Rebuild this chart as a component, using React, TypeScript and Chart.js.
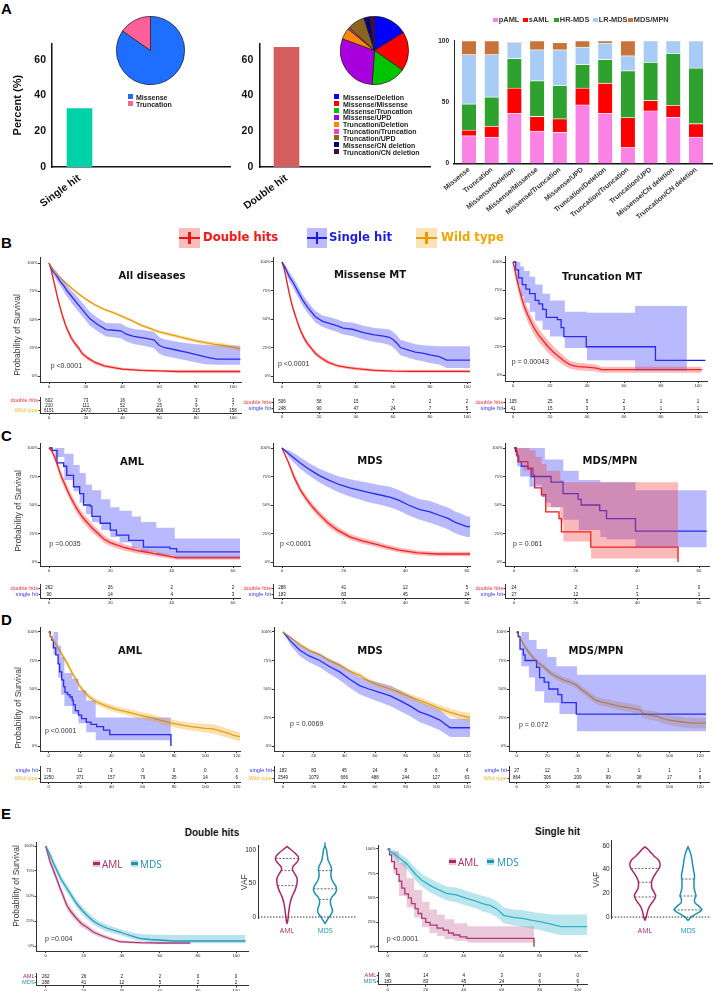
import React, { useEffect, useRef } from 'react';
import { Chart, registerables } from 'chart.js';

const SANS = '"Liberation Sans", Arial, Helvetica, sans-serif';
const DEJAVU = '"DejaVu Sans", Verdana, sans-serif';
const OPEN = '"Open Sans", "Liberation Sans", sans-serif';

// ---------------- Panel A data ----------------
const hitCategories = ['Single hit', 'Double hit'];
const hitPercent = [32.7, 67.0];
const singlePieLabels = ['Missense', 'Truncation'];
const singlePieValues = [84.7, 15.3];
const singlePieColors = ['#1E6EFF', '#FF6098'];
const doublePieLabels = ['Missense/Deletion', 'Missense/Missense', 'Missense/Truncation', 'Missense/UPD', 'Truncation/Deletion', 'Truncation/Truncation', 'Truncation/UPD', 'Missense/CN deletion', 'Truncation/CN deletion'];
const doublePieValues = [16.1, 18.6, 16.4, 29.4, 5.3, 0.8, 8.3, 2.8, 2.2];
const doublePieColors = ['#0000FF', '#FF0000', '#00C400', '#A800DC', '#FF8800', '#FF3CC8', '#8C6420', '#000080', '#4A0A40'];

const comboCategories = ['Missense', 'Truncation', 'Missense/Deletion', 'Missense/Missense', 'Missense/Truncation', 'Missense/UPD', 'Truncation/Deletion', 'Truncation/Truncation', 'Truncation/UPD', 'Missense/CN deletion', 'Truncation/CN deletion'];
const diseaseNames = ['pAML', 'sAML', 'HR-MDS', 'LR-MDS', 'MDS/MPN'];
const diseaseColors = ['#FA82E4', '#FF0000', '#2EA12E', '#A8CCF6', '#C8733A'];
const pamlPct = [22.6, 21.6, 40.8, 26.5, 25.5, 47.8, 40.8, 13.0, 42.9, 37.7, 21.6];
const samlPct = [4.7, 8.8, 20.8, 11.9, 10.9, 13.8, 24.7, 24.4, 8.5, 9.8, 10.9];
const hrmdsPct = [21.3, 23.9, 24.1, 29.1, 27.2, 19.2, 19.4, 38.2, 31.2, 42.1, 45.4];
const lrmdsPct = [40.2, 34.5, 13.0, 25.2, 29.1, 14.2, 13.3, 12.2, 17.4, 10.4, 22.1];
const mpnPct = [11.2, 11.2, 0, 7.3, 6.0, 5.0, 1.8, 12.2, 0, 0, 0];

// ---------------- KM shared ----------------
const ticks100 = [0, 20, 40, 60, 80, 100];
const ticks60 = [0, 20, 40, 60];
const ticks120 = [0, 20, 40, 60, 80, 100, 120];
const groupDouble = 'double hits';
const groupSingle = 'single hit';
const groupWild = 'Wild type';

// B1 All diseases
const allDoubleT = [0, 1, 2, 3, 4, 5, 6, 7, 8, 9, 10, 12, 14, 16, 18, 21, 25, 30, 35, 40, 50, 60, 70, 80, 104];
const allDoubleS = [100, 95, 88, 81, 74, 67, 61, 55, 50, 45, 41, 34, 29, 25, 20, 16, 12, 9, 7.5, 6, 5, 4.5, 4, 4, 4];
const allDoubleLo = [100, 93.5, 86, 78.5, 71.5, 64.5, 58.5, 52.5, 47.5, 42.5, 38.5, 31.5, 26.7, 22.8, 18, 14.2, 10.4, 7.6, 6.2, 4.8, 3.9, 3.4, 2.9, 2.8, 2.8];
const allDoubleHi = [100, 96.5, 90, 83.5, 76.5, 69.5, 63.5, 57.5, 52.5, 47.5, 43.5, 36.5, 31.3, 27.2, 22, 17.8, 13.6, 10.4, 8.8, 7.2, 6.1, 5.6, 5.1, 5.2, 5.2];
const allSingleT = [0, 2, 4, 6, 8, 10, 12, 15, 18, 22, 26, 31, 35, 39, 42, 46, 52, 57, 60, 63, 69, 75, 80, 85, 91, 104];
const allSingleS = [100, 93, 89, 84, 80, 75, 71, 65, 59, 51, 46, 41, 40.5, 40, 37, 35, 33.5, 32, 27, 25, 23, 21, 19, 17, 15, 15];
const allSingleLo = [100, 90, 85, 80, 75, 70, 65, 59, 53, 45, 40, 35, 34.3, 33.5, 30.5, 28.3, 26.5, 24.8, 19.8, 17.8, 15.7, 13.8, 12, 10.5, 10, 10];
const allSingleHi = [100, 96, 93, 88, 85, 80, 76, 71, 65, 57, 52, 47, 46.7, 46.5, 43.5, 41.7, 40.5, 39.2, 34.2, 32.2, 30.5, 29, 28, 27.5, 27, 27];
const allWildT = [0, 3, 6, 10, 15, 20, 25, 30, 35, 40, 45, 50, 55, 60, 65, 70, 75, 80, 85, 90, 95, 100, 104];
const allWildS = [100, 92, 87, 81, 74, 68, 63, 59, 56, 52.5, 49, 45, 42, 39, 37, 35, 33, 31, 29.5, 28, 27, 25.5, 24];
const allWildLo = [100, 91, 86, 80, 73, 67, 62, 58, 55, 51.3, 47.8, 43.8, 40.7, 37.7, 35.6, 33.5, 31.4, 29.4, 27.8, 26.2, 25.1, 23.5, 22];
const allWildHi = [100, 93, 88, 82, 75, 69, 64, 60, 57, 53.7, 50.2, 46.2, 43.3, 40.3, 38.4, 36.5, 34.6, 32.6, 31.2, 29.8, 28.9, 27.5, 26];
const allRiskDouble = [602, 73, 16, 6, 3, 3];
const allRiskSingle = [210, 111, 52, 25, 9, 7];
const allRiskWild = [6151, 2473, 1342, 666, 315, 158];

// B2 Missense MT
const misDoubleT = [0, 1, 2, 3, 4, 5, 6, 7, 8, 9, 10, 12, 14, 16, 18, 21, 25, 30, 35, 40, 50, 60, 70, 80, 104];
const misDoubleS = [100, 95, 88, 80, 72, 65, 59, 54, 49, 44, 40, 33, 28, 24, 20, 16, 12, 9, 7.5, 6.5, 5, 4.3, 4, 4, 4];
const misDoubleLo = [100, 93.5, 85.5, 77.5, 69.5, 62.5, 56.5, 51.5, 46.5, 41.5, 37.5, 30.5, 25.7, 21.8, 18, 14.2, 10.4, 7.6, 6.2, 5.2, 3.8, 3.2, 2.8, 2.8, 2.8];
const misDoubleHi = [100, 96.5, 90.5, 82.5, 74.5, 67.5, 61.5, 56.5, 51.5, 46.5, 42.5, 35.5, 30.3, 26.2, 22, 17.8, 13.6, 10.4, 8.8, 7.8, 6.2, 5.4, 5.2, 5.2, 5.2];
const misSingleT = [0, 2, 4, 6, 8, 11, 14, 18, 22, 26, 30, 33, 38, 44, 50, 55, 58, 60, 62, 64, 68, 72, 76, 80, 85, 89, 104];
const misSingleS = [100, 94, 87, 82, 76, 67, 60, 52, 48, 46, 44, 42, 41, 38, 36, 35, 34, 32, 29, 25, 23, 21, 20, 18.5, 17, 14, 14];
const misSingleLo = [100, 91, 83, 77.5, 71, 62, 55, 47, 43, 40.5, 38.5, 36.5, 35, 32, 29.8, 28.5, 27.3, 25.2, 22.2, 18.2, 16.2, 14.2, 13, 11.5, 10, 7, 7];
const misSingleHi = [100, 97, 91, 86.5, 81, 72, 65, 57, 53, 51.5, 49.5, 47.5, 47, 44, 42.2, 41.5, 40.7, 38.8, 35.8, 31.8, 29.8, 27.8, 27, 26.5, 26, 26, 26];
const misRiskDouble = [506, 58, 15, 7, 2, 2];
const misRiskSingle = [248, 90, 47, 24, 7, 5];

// B3 Truncation MT
const truDoubleT = [0, 1, 2, 4, 6, 8, 10, 12, 14, 16, 19, 22, 25, 28, 31, 35, 40, 45, 48, 102];
const truDoubleS = [100, 93, 85, 72, 61, 53, 46, 40, 35, 31, 25, 20, 16, 12, 9, 7.5, 7, 6, 4.7, 4.7];
const truDoubleLo = [100, 89, 80, 66, 55, 47, 40, 34, 29, 25.5, 19.5, 15, 11.5, 8, 5.5, 4.2, 3.8, 3, 2, 2];
const truDoubleHi = [100, 97, 90, 78, 67, 59, 52, 46, 41, 36.5, 30.5, 25, 20.5, 16, 12.5, 10.8, 10.2, 9, 7.4, 7.4];
const truSingleT = [0, 1.5, 3, 5, 7, 9, 12, 14, 16, 18, 24, 26, 27.5, 39.6, 77, 104];
const truSingleS = [100, 93, 86, 80, 76, 72, 66, 63, 58, 51, 49, 42, 34, 25, 13, 13];
const truSingleBandT = [0, 2, 4, 6, 9, 12, 16, 20, 28, 40, 66, 94];
const truSingleLo = [100, 80, 70, 64, 56, 48, 40, 34, 24, 13, 4, 4];
const truSingleHi = [100, 100, 96, 92, 87, 80, 72, 66, 56, 55, 61, 61];
const truRiskDouble = [105, 25, 5, 2, 1, 1];
const truRiskSingle = [41, 15, 3, 3, 1, 1];

// C1 AML (double vs single)
const amlCDoubleT = [0, 1, 2, 3, 4, 5, 6, 7, 8, 9, 10, 11, 12, 13, 14, 16, 18, 20, 22, 25, 28, 31, 34, 38, 41.6, 62.5];
const amlCDoubleS = [100, 97, 91, 83, 75, 69, 63, 57, 52, 47, 43, 39, 36, 33, 30, 25, 20, 17, 15, 12.5, 10.5, 9, 7.5, 5.5, 3.8, 3.8];
const amlCDoubleLo = [100, 95, 88, 79.5, 71, 65, 59, 53, 48, 43, 39, 35, 32, 29, 26.2, 21.5, 16.7, 14, 12, 9.7, 7.9, 6.5, 5.2, 3.5, 2, 2];
const amlCDoubleHi = [100, 99, 94, 86.5, 79, 73, 67, 61, 56, 51, 47, 43, 40, 37, 33.8, 28.5, 23.3, 20, 18, 15.3, 13.1, 11.5, 9.8, 7.5, 5.6, 5.6];
const amlCSingleT = [0, 1, 2.6, 4.8, 5.8, 8, 10, 11.3, 13.4, 14, 16.7, 20, 22, 26, 30.8, 39.4, 41.6, 62.5];
const amlCSingleS = [100, 98, 87, 84, 76, 66, 60, 50, 49, 40, 34, 28, 23.5, 19, 13, 11.8, 8.8, 8.8];
const amlCSingleBandT = [0, 2, 5, 8, 10, 12, 14, 17, 20, 23, 27, 30, 35, 41, 62.5];
const amlCSingleHi = [100, 100, 95, 85, 78, 68, 63, 55, 48, 45, 40, 35, 30, 20.6, 20.6];
const amlCSingleLo = [100, 92, 72, 62, 52, 42, 35, 28, 22, 17, 12, 9, 6, 3, 3];
const amlCRiskDouble = [262, 26, 2, 2];
const amlCRiskSingle = [90, 14, 4, 3];

// C2 MDS (double vs single)
const mdsCDoubleT = [0, 2, 4, 6, 8, 10, 12, 15, 18, 22, 26, 30, 34, 38, 44, 50, 62.5];
const mdsCDoubleS = [100, 88, 74, 63, 55, 48, 42, 34, 28, 22, 18.5, 16, 13, 10.5, 8, 7, 7];
const mdsCDoubleLo = [100, 86, 71, 60, 52, 45, 39, 31, 25, 19.5, 16, 13.5, 10.7, 8.3, 6, 5, 5];
const mdsCDoubleHi = [100, 90, 77, 66, 58, 51, 45, 37, 31, 24.5, 21, 18.5, 15.3, 12.7, 10, 9, 9];
const mdsCSingleT = [0, 2.6, 5.8, 9, 12, 15, 18.5, 22, 25, 28, 31.5, 35, 38, 41, 44.7, 48, 51, 54, 56, 58, 60, 62.5];
const mdsCSingleS = [100, 94, 87, 81, 76, 72, 68, 65, 63, 61, 59, 57, 54, 50, 46, 44, 41, 38, 35, 33, 31, 31];
const mdsCSingleLo = [100, 90.5, 82, 75.5, 70, 65.5, 61, 57.5, 55, 52.5, 50.5, 48, 45, 41, 37, 34.5, 31.5, 28.5, 25.5, 23.5, 22, 22];
const mdsCSingleHi = [100, 97.5, 92, 86.5, 82, 78.5, 75, 72.5, 71, 69.5, 67.5, 66, 63, 59, 55, 53.5, 50.5, 47.5, 44.5, 42.5, 40, 40];
const mdsCRiskDouble = [288, 41, 12, 5];
const mdsCRiskSingle = [183, 83, 45, 24];

// C3 MDS/MPN (double vs single)
const mpnCDoubleT = [0, 0.8, 1.3, 4.5, 6.2, 6.7, 8.9, 10.3, 14.6, 15.4, 24.9, 53.2];
const mpnCDoubleS = [100, 94, 88, 82, 76.5, 65, 59, 44, 38, 26.5, 13, 0];
const mpnCDoubleBandT = [0, 1, 3, 5, 7, 9, 10.5, 15, 16, 25, 53.2];
const mpnCDoubleHi = [100, 100, 100, 98, 92, 86, 80, 72, 70, 70, 70];
const mpnCDoubleLo = [100, 87, 80, 76, 68, 57, 48, 35, 18, 3, 3];
const mpnCSingleT = [0, 0.5, 1, 1.5, 2.4, 4.5, 5.6, 12, 15.9, 20.8, 21.8, 27.8, 30, 39.4, 62.5];
const mpnCSingleS = [100, 97, 93, 88, 84, 82, 75, 70, 60, 55, 50, 45, 38, 27, 27];
const mpnCSingleBandT = [0, 1, 2, 5, 9, 10, 12, 16, 21, 28, 30, 39.4, 62.5];
const mpnCSingleHi = [100, 100, 100, 100, 100, 90, 90, 80, 72, 70, 70, 63, 63];
const mpnCSingleLo = [100, 84, 75, 66, 57, 52, 48, 37, 28, 22, 20, 13, 13];
const mpnCRiskDouble = [24, 2, 1, 0];
const mpnCRiskSingle = [27, 12, 3, 1];

// D1 AML (single vs wild)
const amlDWildT = [0, 3, 6, 9, 12, 15, 18, 20, 23, 26, 30, 35, 40, 45, 50, 58, 65, 71, 80, 86, 92, 100, 105, 110, 115, 118, 122.6];
const amlDWildS = [100, 93, 86, 79, 72, 64, 57, 52, 47, 43, 39, 36, 33.5, 31.5, 30, 27, 25, 22.6, 19.7, 18, 16.8, 15.5, 15, 13, 11, 9.4, 8];
const amlDWildLo = [100, 91.5, 84, 77, 69.5, 61.5, 54.5, 49.5, 44.5, 40.5, 36.5, 33.3, 30.8, 28.7, 27, 24, 22, 19.5, 16.5, 14.7, 13.3, 11.8, 11, 9, 7, 5.5, 4];
const amlDWildHi = [100, 94.5, 88, 81, 74.5, 66.5, 59.5, 54.5, 49.5, 45.5, 41.5, 38.7, 36.2, 34.3, 33, 30, 28, 25.7, 22.9, 21.3, 20.3, 19.2, 19, 17, 15, 13.3, 12];
const amlDSingleT = [0, 1, 2, 3, 4.5, 6, 7, 8.3, 9.5, 10.4, 12, 13.6, 15, 15.7, 17, 19, 21, 24, 27, 30.6, 35, 39, 78];
const amlDSingleS = [100, 96, 93, 86, 80, 72, 65, 58, 52, 47, 45, 43, 40, 36, 31, 27, 24, 21, 19, 17, 14, 10, 0];
const amlDSingleBandT = [0, 3, 6, 8, 10, 15, 19, 24, 30, 78];
const amlDSingleHi = [100, 100, 88, 78, 64, 59, 49, 40, 25, 25];
const amlDSingleLo = [100, 80, 60, 45, 35, 28, 20, 12, 5, 3.5];
const amlDRiskSingle = [73, 12, 3, 0, 0, 0, 0];
const amlDRiskWild = [1250, 371, 157, 79, 35, 14, 6];

// D2 MDS (single vs wild)
const mdsDWildT = [0, 5, 11, 17, 24, 30, 37, 43, 50, 56, 63, 70, 76, 83, 89, 95, 102, 108, 115, 122];
const mdsDWildS = [100, 95, 89, 84, 80, 75, 71, 66, 62, 57, 53, 50, 47, 43, 40, 37, 33, 30, 27, 25];
const mdsDWildLo = [100, 94, 87.7, 82.5, 78.4, 73.3, 69.2, 64.1, 60, 54.9, 50.8, 47.7, 44.5, 40.4, 37.3, 34.2, 30, 26.8, 23.5, 21];
const mdsDWildHi = [100, 96, 90.3, 85.5, 81.6, 76.7, 72.8, 67.9, 64, 59.1, 55.2, 52.3, 49.5, 45.6, 42.7, 39.8, 36, 33.2, 30.5, 29];
const mdsDSingleT = [0, 5, 11, 17, 24, 30, 37, 43, 50, 56, 63, 70, 76, 83, 89, 95, 102, 109, 122];
const mdsDSingleS = [100, 92, 84, 79, 75, 70, 65, 59, 53, 50, 47, 44, 40, 35, 30, 27, 23, 16, 16];
const mdsDSingleLo = [100, 88, 79, 73.5, 69, 63.5, 58, 51.5, 45.5, 42, 38.5, 35, 31, 26, 21, 18, 14, 8, 8];
const mdsDSingleHi = [100, 96, 89, 84.5, 81, 76.5, 72, 66.5, 60.5, 58, 55.5, 53, 49, 44, 39, 36, 32, 24, 24];
const mdsDRiskSingle = [183, 83, 45, 24, 8, 6, 4];
const mdsDRiskWild = [2549, 1079, 666, 488, 244, 127, 63];

// D3 MDS/MPN (single vs wild)
const mpnDWildT = [0, 2, 4.4, 8, 13, 18, 22, 26, 30.5, 35, 39, 42, 46, 49, 52, 56, 61, 67, 74, 81, 83, 88, 92, 96, 100, 106, 111, 116, 124];
const mpnDWildS = [100, 96, 89, 82, 74, 69, 64, 61, 58, 56, 53.5, 50, 46, 43, 40, 38.5, 37, 35, 33.5, 31.5, 28, 27, 26, 24, 22.6, 21.5, 20.6, 20, 20];
const mpnDWildLo = [100, 94.5, 87, 79.8, 71.7, 66.6, 61.5, 58.4, 55.3, 53.2, 50.6, 47, 42.9, 39.8, 36.7, 35.1, 33.5, 31.4, 29.8, 27.7, 24.1, 23, 21.9, 19.8, 18.3, 17.1, 16.1, 15.4, 15.4];
const mpnDWildHi = [100, 97.5, 91, 84.2, 76.3, 71.4, 66.5, 63.6, 60.7, 58.8, 56.4, 53, 49.1, 46.2, 43.3, 41.9, 40.5, 38.6, 37.2, 35.3, 31.9, 31, 30.1, 28.2, 26.9, 25.9, 25.1, 24.6, 24.6];
const mpnDSingleT = [0, 1, 2.2, 4.4, 5.5, 13, 15, 18, 21, 27, 29.5, 39, 124];
const mpnDSingleS = [100, 96, 85, 80, 75, 69, 60, 56, 50, 45, 38, 28, 28];
const mpnDSingleBandT = [0, 3, 8, 12, 13, 18, 20, 26, 28, 39.5, 124];
const mpnDSingleHi = [100, 100, 93, 93, 85, 85, 78, 70, 70, 62.5, 62.5];
const mpnDSingleLo = [100, 70, 60, 48, 48, 38, 38, 38, 28, 13, 13];
const mpnDRiskSingle = [27, 12, 3, 1, 1, 1, 1];
const mpnDRiskWild = [864, 306, 209, 99, 38, 17, 8];

// E1 Double hits AML vs MDS
const dblEAmlT = [0, 1, 2.3, 4, 5, 6, 7.5, 9, 11, 13, 16, 19, 21.5, 25, 28.5, 32, 36, 39, 45, 50, 60, 76];
const dblEAmlS = [100, 93, 84, 76, 71, 66, 58, 51, 41, 35, 28, 22, 19, 14, 11, 8.5, 6, 4.3, 3.7, 3.3, 3, 3];
const dblEAmlLo = [100, 90, 80.5, 72, 67, 62, 54, 47, 37, 31, 24.5, 18.8, 16, 11.5, 8.8, 6.6, 4.4, 2.9, 2.4, 2, 1.8, 1.8];
const dblEAmlHi = [100, 96, 87.5, 80, 75, 70, 62, 55, 45, 39, 31.5, 25.2, 22, 16.5, 13.2, 10.4, 7.6, 5.7, 5, 4.6, 4.2, 4.2];
const dblEMdsT = [0, 1, 2.3, 4, 5.8, 8, 11, 13, 16, 19, 21.5, 25, 28.5, 32, 36, 39, 45, 49.5, 55, 60, 67, 80, 105];
const dblEMdsS = [100, 96, 91, 83, 76, 67, 58, 52, 43, 36, 31, 25, 21, 18, 15.5, 14, 10, 7.7, 6.5, 6, 5, 5, 5];
const dblEMdsLo = [100, 93, 87.5, 79, 72, 63, 54, 48, 39, 32, 27, 21.5, 17.5, 14.7, 12.3, 10.9, 7.2, 5.2, 4.1, 3.6, 2.7, 2.7, 2.7];
const dblEMdsHi = [100, 99, 94.5, 87, 80, 71, 62, 56, 47, 40, 35, 28.5, 24.5, 21.3, 18.7, 17.1, 13.5, 12, 11.5, 11.3, 11, 11, 11];
const dblERiskAml = [262, 26, 2, 2, 0, 0];
const dblERiskMds = [288, 41, 12, 5, 2, 2];

// E2 Single hit AML vs MDS
const sglEAmlT = [0, 1, 2.1, 3.5, 4.7, 6, 7.4, 9, 10.9, 12.5, 14.4, 16, 17.9, 20, 22.3, 26, 29.3, 32, 34.6, 38, 41.6, 77];
const sglEAmlS = [100, 94, 87, 80, 74, 67, 60, 54, 50, 44, 39, 34, 29, 25, 22, 19, 17, 14, 12, 10, 8.5, 0];
const sglEAmlBandT = [0, 3, 6, 10, 14, 18, 22, 26, 30, 35, 42, 77];
const sglEAmlHi = [100, 98, 86, 70, 58, 46, 38, 33, 28, 24, 21, 21];
const sglEAmlLo = [100, 75, 52, 40, 30, 20, 14, 11, 8, 6, 4, 4];
const sglEMdsT = [0, 1, 3, 6, 10, 13, 15, 18, 22, 26, 31, 36, 41.6, 46, 50, 54, 57, 59, 61, 66, 71, 76, 80, 86, 91, 105];
const sglEMdsS = [100, 98, 95.5, 91, 85, 78, 73.4, 68, 63, 59, 54.6, 53, 49.5, 47, 44, 42, 39, 36, 32, 30, 29, 27, 25.6, 23, 20.5, 20.5];
const sglEMdsLo = [100, 96, 92, 86.5, 79.5, 72, 67, 61.5, 56, 52, 47.5, 45.5, 42, 39.5, 36, 34, 31, 28, 24, 22, 20.5, 18.5, 17, 14, 12, 12];
const sglEMdsHi = [100, 100, 99, 95.5, 90.5, 84, 80, 74.5, 70, 66, 61.7, 60.5, 57, 54.5, 52, 50, 47, 44, 40, 38, 37.5, 35.5, 34.5, 33, 33, 33];
const sglERiskAml = [90, 14, 4, 3, 0, 0];
const sglERiskMds = [183, 83, 45, 24, 6, 6];

// Violins (VAF)
const vafGroups = ['AML', 'MDS'];
const dblVafAmlY = [-10, -5, 0, 10, 20, 30, 40, 50, 58, 65, 70, 75, 80, 85, 90, 95, 100, 105];
const dblVafAmlD = [0, 0.07, 0.1, 0.17, 0.26, 0.43, 0.7, 0.87, 0.87, 0.65, 0.48, 0.52, 0.78, 1, 0.96, 0.7, 0.35, 0];
const dblVafAmlQ = [46.7, 69, 87];
const dblVafMdsY = [-10, -5, 0, 5, 10, 15, 20, 25, 30, 35, 40, 45, 50, 55, 60, 65, 70, 75, 80, 85, 90, 95, 100, 106];
const dblVafMdsD = [0, 0.17, 0.35, 0.57, 0.65, 0.57, 0.48, 0.48, 0.61, 0.87, 1, 0.96, 0.78, 0.61, 0.52, 0.52, 0.57, 0.52, 0.39, 0.26, 0.22, 0.17, 0.13, 0];
const dblVafMdsQ = [26.2, 42, 69];
const sglVafAmlY = [-3, 0, 3, 6, 9, 12, 15, 18, 21, 24, 27, 30, 33, 36, 39, 42, 45, 48, 51, 54, 57, 59];
const sglVafAmlD = [0, 0.08, 0.13, 0.19, 0.29, 0.45, 0.61, 0.69, 0.58, 0.45, 0.42, 0.43, 0.52, 0.65, 0.81, 0.95, 0.97, 0.87, 0.61, 0.39, 0.19, 0];
const sglVafAmlQ = [16.9, 29.3, 40.9];
const sglVafMdsY = [-3, 0, 3, 6, 9, 12, 15, 18, 21, 25, 30, 35, 40, 45, 50, 55, 59];
const sglVafMdsD = [0, 0.19, 0.58, 0.9, 0.71, 0.45, 0.42, 0.52, 0.45, 0.39, 0.39, 0.42, 0.35, 0.29, 0.23, 0.13, 0];
const sglVafMdsQ = [6, 17.7, 32];

// ---------------- colors ----------------
const RED = '#F01414';
const RED_FILL = 'rgba(245,60,60,0.36)';
const BLUE = '#1A1AE8';
const BLUE_FILL = 'rgba(70,70,250,0.38)';
const ORANGE = '#E89B00';
const ORANGE_FILL = 'rgba(235,165,30,0.35)';
const AML_C = '#A8286A';
const AML_FILL = 'rgba(190,90,140,0.32)';
const MDS_C = '#1C90B2';
const MDS_FILL = 'rgba(60,175,205,0.36)';
const LBL_RED = '#E8323C';
const LBL_BLUE = '#3C3CE0';
const LBL_ORANGE = '#EDB52A';

// ---------------- plugin ----------------
const riskPlugin = {
  id: 'riskNums',
  afterDraw(chart: any, _a: any, opts: any) {
    if (!opts || !opts.rows) return;
    const x = chart.scales.x;
    const y = chart.scales.y;
    const ctx = chart.ctx;
    ctx.save();
    ctx.font = `${opts.size || 4.5}px ${SANS}`;
    ctx.fillStyle = '#111';
    ctx.textAlign = 'center';
    ctx.textBaseline = 'middle';
    opts.rows.forEach((row: number[], i: number) =>
      row.forEach((n: number, j: number) => ctx.fillText(String(n), x.getPixelForValue(opts.times[j]), y.getPixelForValue(i + 0.5)))
    );
    ctx.restore();
  },
};
Chart.register(...registerables, riskPlugin);

// ---------------- helpers ----------------
function lin(v0: number, p0: number, v1: number, p1: number, p: number) {
  return v0 + ((p - p0) * (v1 - v0)) / (p1 - p0);
}
function makeBox(AL: number, PR: number, PT: number, AB: number, yw: number, xh: number, padT = 3, padR = 3) {
  const left = Math.floor(AL - yw);
  const top = Math.floor(PT - padT);
  const width = Math.ceil(PR + padR - left);
  const height = Math.ceil(AB + xh - top);
  return { left, top, width, height, yw: AL - left, xh: top + height - AB, padT: PT - top, padR: left + width - PR };
}
const pts = (t: number[], v: number[]) => t.map((x, i) => ({ x, y: v[i] }));
const noUI = { legend: { display: false }, tooltip: { enabled: false } };

function ChartBox({ box, config }: any) {
  const ref = useRef<HTMLCanvasElement>(null);
  useEffect(() => {
    const chart = new Chart(ref.current as HTMLCanvasElement, config);
    return () => chart.destroy();
  }, []);
  return (
    <canvas
      ref={ref}
      width={box.width}
      height={box.height}
      style={{ position: 'absolute', left: box.left, top: box.top, width: box.width, height: box.height }}
    />
  );
}

function Txt({ x, y, text, size = 7, color = '#222', weight = 400, family = SANS, align = 'left', rotate = 0 }: any) {
  const tx = align === 'center' ? '-50%' : align === 'right' ? '-100%' : '0';
  return (
    <div
      style={{
        position: 'absolute', left: x, top: y, fontSize: size, color, fontWeight: weight, fontFamily: family,
        lineHeight: 1, whiteSpace: 'nowrap', transform: `translate(${tx},-50%)${rotate ? ` rotate(${rotate}deg)` : ''}`,
        transformOrigin: rotate ? '50% 50%' : undefined,
      }}
    >
      {text}
    </div>
  );
}

// ---------------- KM ----------------
function kmXScale(g: any, xticks: number[], xh: number) {
  return {
    type: 'linear',
    offset: false,
    min: lin(0, g.X0, g.xt, g.Xt, g.AL),
    max: lin(0, g.X0, g.xt, g.Xt, g.PR),
    afterBuildTicks: (s: any) => { s.ticks = xticks.map((v) => ({ value: v })); },
    afterFit: (s: any) => { s.height = xh; },
    ticks: { font: { size: 4.3, family: SANS }, color: '#222', padding: 0.5, maxRotation: 0, autoSkip: false },
    grid: { drawOnChartArea: false, drawTicks: true, tickLength: 2, color: '#333' },
    border: { color: '#333', width: 1 },
  };
}

function kmConfig(p: any) {
  const g = p.geo;
  const b = makeBox(g.AL, g.PR, g.PT, g.AB, 30, 8);
  const datasets: any[] = [];
  p.curves.forEach((c: any) => {
    datasets.push({ data: pts(c.bt, c.lo), borderWidth: 0, borderColor: 'rgba(0,0,0,0)', pointRadius: 0, fill: false, stepped: c.step });
    datasets.push({ data: pts(c.bt, c.hi), borderWidth: 0, borderColor: 'rgba(0,0,0,0)', pointRadius: 0, fill: '-1', backgroundColor: c.fill, stepped: c.step });
  });
  p.curves.forEach((c: any) => {
    datasets.push({ data: pts(c.t, c.s), borderColor: c.color, borderWidth: 1.3, pointRadius: 0, fill: false, stepped: c.step });
  });
  const config = {
    type: 'line',
    data: { datasets },
    options: {
      responsive: false, animation: false, events: [],
      layout: { autoPadding: false, padding: { top: b.padT, right: b.padR, left: 0, bottom: 0 } },
      plugins: noUI,
      scales: {
        x: kmXScale(g, p.xticks, b.xh),
        y: {
          type: 'linear',
          min: lin(0, g.Y0, 100, g.Y100, g.AB),
          max: lin(0, g.Y0, 100, g.Y100, g.PT),
          afterBuildTicks: (s: any) => { s.ticks = [0, 25, 50, 75, 100].map((v) => ({ value: v })); },
          afterFit: (s: any) => { s.width = b.yw; },
          ticks: { callback: (v: number) => v + '%', font: { size: 4, family: SANS }, color: '#222', padding: 0.5 },
          grid: { drawOnChartArea: false, drawTicks: true, tickLength: 2, color: '#333' },
          border: { color: '#333', width: 1 },
        },
      },
    },
  };
  return { box: b, config };
}

function riskConfig(p: any) {
  const g = p.geo;
  const r = p.risk;
  const b = makeBox(g.AL, g.PR, r.RT, r.RB, 38, 7, 1, 3);
  const n = r.names.length;
  const config = {
    type: 'scatter',
    data: { datasets: [] },
    options: {
      responsive: false, animation: false, events: [],
      layout: { autoPadding: false, padding: { top: b.padT, right: b.padR, left: 0, bottom: 0 } },
      plugins: { ...noUI, riskNums: { times: p.xticks, rows: r.rows, size: 4.5 } },
      scales: {
        x: kmXScale(g, p.xticks, b.xh),
        y: {
          type: 'linear', min: 0, max: n, reverse: true,
          afterBuildTicks: (s: any) => { s.ticks = r.names.map((_: any, i: number) => ({ value: i + 0.5 })); },
          afterFit: (s: any) => { s.width = b.yw; },
          ticks: { callback: (_v: any, i: number) => r.names[i], color: (ctx: any) => r.colors[ctx.index], font: { size: 5.7, family: SANS }, padding: 0.5 },
          grid: { drawOnChartArea: false, drawTicks: true, tickLength: 1.5, color: '#333' },
          border: { color: '#333', width: 1 },
        },
      },
    },
  };
  return { box: b, config };
}

function KMPanel({ p }: any) {
  const km = kmConfig(p);
  const rk = riskConfig(p);
  return (
    <>
      <ChartBox box={km.box} config={km.config} />
      <ChartBox box={rk.box} config={rk.config} />
      {p.title && <Txt x={p.title[1]} y={p.title[2]} text={p.title[0]} size={10} weight={700} family={DEJAVU} color="#111" align="center" />}
      <Txt x={p.pval[1]} y={p.pval[2]} text={p.pval[0]} size={7} color="#333" />
      {p.ylab && <Txt x={p.ylab[0]} y={p.ylab[1]} text="Probability of Survival" size={8.5} color="#3a3a3a" align="center" rotate={-90} />}
    </>
  );
}

const curve = (t: number[], s: number[], bt: number[], lo: number[], hi: number[], color: string, fill: string, step: boolean) => ({ t, s, bt, lo, hi, color, fill, step });

const KM_PANELS = [
  {
    geo: { X0: 49, Xt: 233, xt: 100, AL: 40, PR: 241, Y0: 376, Y100: 263, PT: 257, AB: 382 },
    xticks: ticks100,
    curves: [
      curve(allWildT, allWildS, allWildT, allWildLo, allWildHi, ORANGE, ORANGE_FILL, false),
      curve(allSingleT, allSingleS, allSingleT, allSingleLo, allSingleHi, BLUE, BLUE_FILL, false),
      curve(allDoubleT, allDoubleS, allDoubleT, allDoubleLo, allDoubleHi, RED, RED_FILL, false),
    ],
    risk: { RT: 395, RB: 413, names: [groupDouble, groupSingle, groupWild], colors: [LBL_RED, LBL_BLUE, LBL_ORANGE], rows: [allRiskDouble, allRiskSingle, allRiskWild] },
    title: ['All diseases', 152, 276], pval: ['p <0.0001', 50.7, 364.5], ylab: [17, 335],
  },
  {
    geo: { X0: 282, Xt: 467, xt: 100, AL: 273, PR: 470, Y0: 376, Y100: 262, PT: 257, AB: 382 },
    xticks: ticks100,
    curves: [
      curve(misSingleT, misSingleS, misSingleT, misSingleLo, misSingleHi, BLUE, BLUE_FILL, false),
      curve(misDoubleT, misDoubleS, misDoubleT, misDoubleLo, misDoubleHi, RED, RED_FILL, false),
    ],
    risk: { RT: 396, RB: 412, names: [groupDouble, groupSingle], colors: [LBL_RED, LBL_BLUE], rows: [misRiskDouble, misRiskSingle] },
    title: ['Missense MT', 370, 275], pval: ['p <0.0001', 278, 362.5],
  },
  {
    geo: { X0: 513, Xt: 698, xt: 100, AL: 505, PR: 707, Y0: 375, Y100: 262, PT: 256, AB: 381 },
    xticks: ticks100,
    curves: [
      curve(truDoubleT, truDoubleS, truDoubleT, truDoubleLo, truDoubleHi, RED, RED_FILL, false),
      curve(truSingleT, truSingleS, truSingleBandT, truSingleLo, truSingleHi, BLUE, BLUE_FILL, true),
    ],
    risk: { RT: 396, RB: 412, names: [groupDouble, groupSingle], colors: [LBL_RED, LBL_BLUE], rows: [truRiskDouble, truRiskSingle] },
    title: ['Truncation MT', 602, 277], pval: ['p = 0.00043', 511.7, 361],
  },
  {
    geo: { X0: 49, Xt: 233, xt: 60, AL: 40, PR: 240, Y0: 562, Y100: 448, PT: 443, AB: 566 },
    xticks: ticks60,
    curves: [
      curve(amlCDoubleT, amlCDoubleS, amlCDoubleT, amlCDoubleLo, amlCDoubleHi, RED, RED_FILL, false),
      curve(amlCSingleT, amlCSingleS, amlCSingleBandT, amlCSingleLo, amlCSingleHi, BLUE, BLUE_FILL, true),
    ],
    risk: { RT: 582, RB: 598, names: [groupDouble, groupSingle], colors: [LBL_RED, LBL_BLUE], rows: [amlCRiskDouble, amlCRiskSingle] },
    title: ['AML', 132, 462], pval: ['p =0.0035', 49.3, 543], ylab: [18, 511],
  },
  {
    geo: { X0: 282, Xt: 467, xt: 60, AL: 273, PR: 470, Y0: 562, Y100: 448, PT: 443, AB: 566 },
    xticks: ticks60,
    curves: [
      curve(mdsCSingleT, mdsCSingleS, mdsCSingleT, mdsCSingleLo, mdsCSingleHi, BLUE, BLUE_FILL, false),
      curve(mdsCDoubleT, mdsCDoubleS, mdsCDoubleT, mdsCDoubleLo, mdsCDoubleHi, RED, RED_FILL, false),
    ],
    risk: { RT: 582, RB: 598, names: [groupDouble, groupSingle], colors: [LBL_RED, LBL_BLUE], rows: [mdsCRiskDouble, mdsCRiskSingle] },
    title: ['MDS', 370, 461], pval: ['p <0.0001', 280, 543],
  },
  {
    geo: { X0: 514, Xt: 699, xt: 60, AL: 505, PR: 709, Y0: 562, Y100: 448, PT: 443, AB: 566 },
    xticks: ticks60,
    curves: [
      curve(mpnCDoubleT, mpnCDoubleS, mpnCDoubleBandT, mpnCDoubleLo, mpnCDoubleHi, RED, RED_FILL, true),
      curve(mpnCSingleT, mpnCSingleS, mpnCSingleBandT, mpnCSingleLo, mpnCSingleHi, BLUE, BLUE_FILL, true),
    ],
    risk: { RT: 582, RB: 598, names: [groupDouble, groupSingle], colors: [LBL_RED, LBL_BLUE], rows: [mpnCRiskDouble, mpnCRiskSingle] },
    title: ['MDS/MPN', 610, 461], pval: ['p = 0.061', 513, 543],
  },
  {
    geo: { X0: 48.7, Xt: 236.7, xt: 120, AL: 40, PR: 240, Y0: 746, Y100: 632, PT: 627, AB: 751 },
    xticks: ticks120,
    curves: [
      curve(amlDWildT, amlDWildS, amlDWildT, amlDWildLo, amlDWildHi, ORANGE, ORANGE_FILL, false),
      curve(amlDSingleT, amlDSingleS, amlDSingleBandT, amlDSingleLo, amlDSingleHi, BLUE, BLUE_FILL, true),
    ],
    risk: { RT: 764, RB: 782, names: [groupSingle, groupWild], colors: [LBL_BLUE, LBL_ORANGE], rows: [amlDRiskSingle, amlDRiskWild] },
    title: ['AML', 130, 651], pval: ['p <0.0001', 45, 730], ylab: [18, 707.5],
  },
  {
    geo: { X0: 283, Xt: 467, xt: 120, AL: 274, PR: 470, Y0: 746, Y100: 632, PT: 627, AB: 751 },
    xticks: ticks120,
    curves: [
      curve(mdsDWildT, mdsDWildS, mdsDWildT, mdsDWildLo, mdsDWildHi, ORANGE, ORANGE_FILL, false),
      curve(mdsDSingleT, mdsDSingleS, mdsDSingleT, mdsDSingleLo, mdsDSingleHi, BLUE, BLUE_FILL, false),
    ],
    risk: { RT: 764, RB: 782, names: [groupSingle, groupWild], colors: [LBL_BLUE, LBL_ORANGE], rows: [mdsDRiskSingle, mdsDRiskWild] },
    title: ['MDS', 370, 651], pval: ['p = 0.0069', 290, 723],
  },
  {
    geo: { X0: 516.7, Xt: 700, xt: 120, AL: 509, PR: 709, Y0: 746, Y100: 632, PT: 627, AB: 751 },
    xticks: ticks120,
    curves: [
      curve(mpnDSingleT, mpnDSingleS, mpnDSingleBandT, mpnDSingleLo, mpnDSingleHi, BLUE, BLUE_FILL, true),
      curve(mpnDWildT, mpnDWildS, mpnDWildT, mpnDWildLo, mpnDWildHi, ORANGE, ORANGE_FILL, false),
    ],
    risk: { RT: 764, RB: 782, names: [groupSingle, groupWild], colors: [LBL_BLUE, LBL_ORANGE], rows: [mpnDRiskSingle, mpnDRiskWild] },
    title: ['MDS/MPN', 596, 651], pval: ['p = 0.072', 519, 724],
  },
  {
    geo: { X0: 45.7, Xt: 236, xt: 100, AL: 36.7, PR: 248, Y0: 946, Y100: 846, PT: 842, AB: 951 },
    xticks: ticks100,
    curves: [
      curve(dblEMdsT, dblEMdsS, dblEMdsT, dblEMdsLo, dblEMdsHi, MDS_C, MDS_FILL, false),
      curve(dblEAmlT, dblEAmlS, dblEAmlT, dblEAmlLo, dblEAmlHi, AML_C, AML_FILL, false),
    ],
    risk: { RT: 971.5, RB: 985.5, names: ['AML', 'MDS'], colors: [AML_C, MDS_C], rows: [dblERiskAml, dblERiskMds] },
    pval: ['p =0.004', 45, 938], ylab: [16, 885.5],
  },
  {
    geo: { X0: 387.7, Xt: 577.7, xt: 100, AL: 378.3, PR: 587.3, Y0: 946.7, Y100: 849, PT: 845, AB: 951 },
    xticks: ticks100,
    curves: [
      curve(sglEMdsT, sglEMdsS, sglEMdsT, sglEMdsLo, sglEMdsHi, '#22A8C0', 'rgba(70,190,205,0.38)', false),
      curve(sglEAmlT, sglEAmlS, sglEAmlBandT, sglEAmlLo, sglEAmlHi, AML_C, AML_FILL, true),
    ],
    risk: { RT: 970.5, RB: 984.5, names: ['AML', 'MDS'], colors: [AML_C, MDS_C], rows: [sglERiskAml, sglERiskMds] },
    pval: ['p <0.0001', 386.7, 937.7],
  },
];

// ---------------- Violins ----------------
function interp(xs: number[], ys: number[], q: number) {
  for (let i = 1; i < xs.length; i++) {
    if (q <= xs[i]) return ys[i - 1] + ((q - xs[i - 1]) * (ys[i] - ys[i - 1])) / (xs[i] - xs[i - 1]);
  }
  return ys[ys.length - 1];
}
function violinConfig(v: any) {
  const b = makeBox(v.AL, v.PR, v.PT, v.AB, 22, 22, 3, 2);
  const xmin = lin(1, v.Xc1, 2, v.Xc2, v.AL);
  const xmax = lin(1, v.Xc1, 2, v.Xc2, v.PR);
  const sc = v.maxHalfPx / (v.Xc2 - v.Xc1);
  const datasets: any[] = [
    { data: [{ x: xmin, y: 0 }, { x: xmax, y: 0 }], showLine: true, borderColor: '#333', borderWidth: 1, borderDash: [1.5, 1.5], pointRadius: 0 },
  ];
  v.groups.forEach((g: any, gi: number) => {
    const c = gi + 1;
    const right = g.ys.map((y: number, i: number) => ({ x: c + g.d[i] * sc, y }));
    const left = g.ys.map((y: number, i: number) => ({ x: c - g.d[i] * sc, y })).reverse();
    datasets.push({ data: right.concat(left), showLine: true, borderColor: g.color, borderWidth: 1.5, pointRadius: 0, tension: 0.3, clip: false });
    g.q.forEach((q: number) => {
      const w = interp(g.ys, g.d, q) * sc;
      datasets.push({ data: [{ x: c - w, y: q }, { x: c + w, y: q }], showLine: true, borderColor: '#555', borderWidth: 0.9, borderDash: [2, 1.5], pointRadius: 0 });
    });
  });
  const config = {
    type: 'scatter',
    data: { datasets },
    options: {
      responsive: false, animation: false, events: [],
      layout: { autoPadding: false, padding: { top: b.padT, right: b.padR, left: 0, bottom: 0 } },
      plugins: noUI,
      scales: {
        x: {
          type: 'linear', offset: false, min: xmin, max: xmax,
          afterBuildTicks: (s: any) => { s.ticks = [{ value: 1 }, { value: 2 }]; },
          afterFit: (s: any) => { s.height = b.xh; },
          ticks: { callback: (_v: any, i: number) => vafGroups[i], color: (ctx: any) => [AML_C, MDS_C][ctx.index], font: { size: 7, family: OPEN }, padding: 8, maxRotation: 0 },
          grid: { display: false, drawTicks: false },
          border: { display: false },
        },
        y: {
          type: 'linear',
          min: lin(0, v.Y0, v.yref, v.Yref, v.AB),
          max: lin(0, v.Y0, v.yref, v.Yref, v.PT),
          afterBuildTicks: (s: any) => { s.ticks = v.yticks.map((t: number) => ({ value: t })); },
          afterFit: (s: any) => { s.width = b.yw; },
          ticks: { font: { size: 6.5, family: SANS }, color: '#222', padding: 2 },
          grid: { display: false, drawTicks: false },
          border: { color: '#333', width: 1 },
          title: { display: true, text: 'VAF', font: { size: 8.5, family: SANS }, color: '#333', padding: { top: v.titlePad, bottom: 0 } },
        },
      },
    },
  };
  return { box: b, config };
}

const VIOLINS = [
  {
    AL: 258, PR: 356, PT: 843, AB: 918.5, Xc1: 287, Xc2: 325, Y0: 917, yref: 100, Yref: 847, yticks: [0, 50, 100], maxHalfPx: 11.5, titlePad: 4,
    groups: [
      { ys: dblVafAmlY, d: dblVafAmlD, q: dblVafAmlQ, color: AML_C },
      { ys: dblVafMdsY, d: dblVafMdsD, q: dblVafMdsQ, color: MDS_C },
    ],
  },
  {
    AL: 611.7, PR: 711, PT: 838, AB: 918.5, Xc1: 645, Xc2: 688, Y0: 917, yref: 60, Yref: 843, yticks: [0, 20, 40, 60], maxHalfPx: 15.5, titlePad: 3,
    groups: [
      { ys: sglVafAmlY, d: sglVafAmlD, q: sglVafAmlQ, color: AML_C },
      { ys: sglVafMdsY, d: sglVafMdsD, q: sglVafMdsQ, color: MDS_C },
    ],
  },
];

// ---------------- Panel A configs ----------------
function hitBarConfig(a: any) {
  const b = makeBox(a.AL, a.PR, a.PT, a.AB, a.yw, 42, 3, 2);
  const u = 27;
  const config = {
    type: 'bar',
    data: { datasets: [{ data: [{ x: 0, y: a.value }], backgroundColor: a.color, barThickness: 25 }] },
    options: {
      responsive: false, animation: false, events: [],
      layout: { autoPadding: false, padding: { top: b.padT, right: b.padR, left: 0, bottom: 0 } },
      plugins: noUI,
      scales: {
        x: {
          type: 'linear', offset: false, min: (a.AL - a.Xc) / u, max: (a.PR - a.Xc) / u,
          afterBuildTicks: (s: any) => { s.ticks = [{ value: 0 }]; },
          afterFit: (s: any) => { s.height = b.xh; },
          ticks: { callback: () => a.label, minRotation: 36, maxRotation: 36, font: { size: 10.5, weight: 'bold', family: SANS }, color: '#111', padding: 5 },
          grid: { display: false, drawTicks: false, offset: false },
          border: { color: '#111', width: 1.5 },
        },
        y: {
          type: 'linear', min: 0, max: lin(0, a.Y0, 60, a.Y60, a.PT),
          afterBuildTicks: (s: any) => { s.ticks = [0, 20, 40, 60].map((v) => ({ value: v })); },
          afterFit: (s: any) => { s.width = b.yw; },
          ticks: { font: { size: 10.5, weight: 'bold', family: SANS }, color: '#111', padding: 6 },
          grid: { display: false, drawTicks: false },
          border: { color: '#111', width: 1.5 },
          title: { display: !!a.title, text: 'Percent (%)', font: { size: 11, weight: 'bold', family: SANS }, color: '#111', padding: { top: 7, bottom: 0 } },
        },
      },
    },
  };
  return { box: b, config };
}

function pieConfig(labels: string[], values: number[], colors: string[], cx: number, cy: number, r: number) {
  const size = 2 * r + 1;
  const box = { left: Math.round(cx - size / 2), top: Math.round(cy - size / 2), width: size, height: size };
  const config = {
    type: 'pie',
    data: { labels, datasets: [{ data: values, backgroundColor: colors, borderColor: '#1a1a1a', borderWidth: 0.7 }] },
    options: { responsive: false, animation: false, events: [], plugins: noUI, layout: { padding: 0 } },
  };
  return { box, config };
}

function stackedConfig() {
  const AL = 454, PR = 712, PT = 35, AB = 163.5;
  const b = makeBox(AL, PR, PT, AB, 24, 68, 3, 1);
  const series = [pamlPct, samlPct, hrmdsPct, lrmdsPct, mpnPct];
  const config = {
    type: 'bar',
    data: {
      datasets: series.map((vals, k) => ({
        label: diseaseNames[k],
        data: vals.map((v, i) => ({ x: i, y: v })),
        backgroundColor: diseaseColors[k],
        borderColor: '#ffffff',
        borderWidth: { top: 0.8, left: 0, right: 0, bottom: 0 },
        borderSkipped: false,
        barThickness: 14,
      })),
    },
    options: {
      responsive: false, animation: false, events: [],
      layout: { autoPadding: false, padding: { top: b.padT, right: b.padR, left: 0, bottom: 0 } },
      plugins: noUI,
      scales: {
        x: {
          type: 'linear', stacked: true, offset: false, min: lin(0, 469, 10, 696, AL), max: lin(0, 469, 10, 696, PR),
          afterBuildTicks: (s: any) => { s.ticks = comboCategories.map((_, i) => ({ value: i })); },
          afterFit: (s: any) => { s.height = b.xh; },
          ticks: { callback: (_v: any, i: number) => comboCategories[i], minRotation: 40, maxRotation: 40, autoSkip: false, font: { size: 7, weight: 'bold', family: SANS }, color: '#333', padding: 2 },
          grid: { display: false, drawTicks: false, offset: false },
          border: { color: '#111', width: 1.5 },
        },
        y: {
          type: 'linear', stacked: true, min: 0, max: 100,
          afterBuildTicks: (s: any) => { s.ticks = [0, 50, 100].map((v) => ({ value: v })); },
          afterFit: (s: any) => { s.width = b.yw; },
          ticks: { font: { size: 6.5, weight: 'bold', family: SANS }, color: '#222', padding: 5 },
          grid: { display: false, drawTicks: false },
          border: { color: '#222', width: 1 },
        },
      },
    },
  };
  return { box: b, config };
}

function LegendMark({ x, y, w, h, fill, line }: any) {
  return (
    <div style={{ position: 'absolute', left: x, top: y, width: w, height: h, background: fill }}>
      <div style={{ position: 'absolute', left: 0, right: 0, top: h / 2 - 1.2, height: 2.4, background: line }} />
      <div style={{ position: 'absolute', left: w / 2 - 1.2, width: 2.4, top: h / 2 - h * 0.28, height: h * 0.56, background: line }} />
    </div>
  );
}

export default function App() {
  const singleBar = hitBarConfig({ AL: 52, PR: 230, Xc: 79.5, Y0: 167, Y60: 51.7, PT: 34, AB: 167, yw: 48, value: hitPercent[0], color: '#00D2A8', label: hitCategories[0], title: true });
  const doubleBar = hitBarConfig({ AL: 259.3, PR: 430, Xc: 286.5, Y0: 167, Y60: 51.7, PT: 34, AB: 167, yw: 30, value: hitPercent[1], color: '#D45E5E', label: hitCategories[1], title: false });
  const pie1 = pieConfig(singlePieLabels, singlePieValues, singlePieColors, 150.2, 50.8, 34);
  const pie2 = pieConfig(doublePieLabels, doublePieValues, doublePieColors, 374.2, 50.8, 34);
  const stacked = stackedConfig();
  const violins = VIOLINS.map(violinConfig);
  const legendX = [493, 523, 554, 593, 628];

  return (
    <div style={{ position: 'absolute', left: 0, top: 0, width: 713, height: 991, background: '#fff', overflow: 'hidden', fontFamily: SANS }}>
      {/* panel letters */}
      {[['A', 1], ['B', 235], ['C', 428], ['D', 612], ['E', 806]].map(([l, t]) => (
        <div key={l as string} style={{ position: 'absolute', left: 1, top: t as number, fontSize: 15, fontWeight: 700, lineHeight: 1, fontFamily: SANS, color: '#000' }}>{l}</div>
      ))}

      {/* Panel A */}
      <ChartBox box={singleBar.box} config={singleBar.config} />
      <ChartBox box={doubleBar.box} config={doubleBar.config} />
      <ChartBox box={pie1.box} config={pie1.config} />
      <ChartBox box={pie2.box} config={pie2.config} />
      {singlePieLabels.map((l, i) => (
        <React.Fragment key={l}>
          <div style={{ position: 'absolute', left: 127.5, top: 94.3 + i * 6.8, width: 5, height: 5, background: singlePieColors[i] }} />
          <Txt x={136} y={96.8 + i * 6.8} text={l} size={7} weight={700} color="#222" />
        </React.Fragment>
      ))}
      {doublePieLabels.map((l, i) => (
        <React.Fragment key={l}>
          <div style={{ position: 'absolute', left: 334, top: 94.3 + i * 6.85, width: 5, height: 5, background: doublePieColors[i] }} />
          <Txt x={343} y={96.8 + i * 6.85} text={l} size={7} weight={700} color="#222" />
        </React.Fragment>
      ))}
      <ChartBox box={stacked.box} config={stacked.config} />
      {diseaseNames.map((n, i) => (
        <React.Fragment key={n}>
          <div style={{ position: 'absolute', left: legendX[i], top: 17.7, width: 4.8, height: 4.8, background: diseaseColors[i] }} />
          <Txt x={legendX[i] + 5.8} y={20.2} text={n} size={7.4} weight={700} color="#333" />
        </React.Fragment>
      ))}

      {/* B legend */}
      <LegendMark x={179} y={228} w={21} h={20} fill="rgba(245,80,80,0.38)" line={RED} />
      <Txt x={203} y={238} text="Double hits" size={11.7} weight={700} family={DEJAVU} color="#F01818" />
      <LegendMark x={307} y={228} w={20} h={20} fill="rgba(80,80,250,0.38)" line={BLUE} />
      <Txt x={329} y={238} text="Single hit" size={11.7} weight={700} family={DEJAVU} color="#1E1EE0" />
      <LegendMark x={416} y={228} w={21} h={20} fill="rgba(240,175,40,0.35)" line={ORANGE} />
      <Txt x={441} y={238} text="Wild type" size={11.7} weight={700} family={DEJAVU} color="#F0A500" />

      {/* KM panels */}
      {KM_PANELS.map((p, i) => <KMPanel key={i} p={p} />)}

      {/* E extras */}
      <Txt x={212} y={833} text="Double hits" size={10} weight={700} color="#111" align="center" />
      <Txt x={557.5} y={832} text="Single hit" size={10} weight={700} color="#111" align="center" />
      <LegendMark x={93} y={860} w={7} h={7} fill="rgba(190,90,140,0.35)" line={AML_C} />
      <Txt x={102} y={863.5} text="AML" size={10} family={OPEN} color={AML_C} />
      <LegendMark x={131} y={860} w={7} h={7} fill="rgba(60,175,205,0.4)" line={MDS_C} />
      <Txt x={140} y={863.5} text="MDS" size={10} family={OPEN} color={MDS_C} />
      <LegendMark x={449} y={858} w={7} h={7} fill="rgba(190,90,140,0.35)" line={AML_C} />
      <Txt x={458} y={861.5} text="AML" size={10} family={OPEN} color={AML_C} />
      <LegendMark x={487} y={858} w={7} h={7} fill="rgba(60,175,205,0.4)" line={MDS_C} />
      <Txt x={497} y={861.5} text="MDS" size={10} family={OPEN} color={MDS_C} />
      {violins.map((v, i) => <ChartBox key={'v' + i} box={v.box} config={v.config} />)}
    </div>
  );
}
